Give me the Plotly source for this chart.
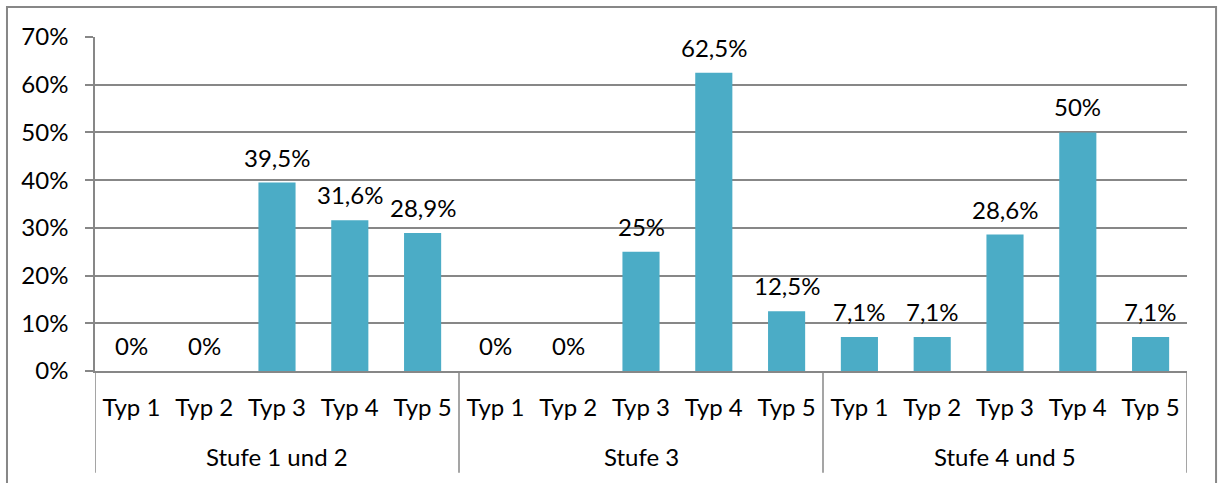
import plotly.graph_objects as go

groups = ["Stufe 1 und 2", "Stufe 3", "Stufe 4 und 5"]
types = ["Typ 1", "Typ 2", "Typ 3", "Typ 4", "Typ 5"]
values_stufe_1_2 = [0.0, 0.0, 0.395, 0.316, 0.289]
values_stufe_3 = [0.0, 0.0, 0.25, 0.625, 0.125]
values_stufe_4_5 = [0.071, 0.071, 0.286, 0.50, 0.071]
y_ticks = [0, 0.1, 0.2, 0.3, 0.4, 0.5, 0.6, 0.7]

all_values = values_stufe_1_2 + values_stufe_3 + values_stufe_4_5
n = len(types)
xpos = list(range(len(all_values)))
tick_text = types * len(groups)


def fmt(v):
    s = f"{v * 100:.1f}".rstrip("0").rstrip(".")
    return s.replace(".", ",") + "%"


labels = [fmt(v) for v in all_values]

FONT = "Lato, 'Open Sans', sans-serif"
FS = 24
GRAY = "#878787"

fig = go.Figure(
    go.Bar(
        x=xpos,
        y=all_values,
        marker=dict(color="#4BACC6", line=dict(width=0)),
        width=0.51,
        cliponaxis=False,
    )
)

shapes = []
# group dividers
for g in range(len(groups) + 1):
    xb = g * n - 0.5
    shapes.append(dict(type="line", xref="x", yref="paper", x0=xb, x1=xb,
                       y0=0, y1=-0.305, line=dict(color=GRAY, width=1.5)))
# chart border
shapes.append(dict(type="rect", xref="paper", yref="paper",
                   x0=-0.0806, x1=1.0266, y0=-0.40, y1=1.0898,
                   line=dict(color=GRAY, width=2), fillcolor="rgba(0,0,0,0)",
                   layer="below"))

annotations = []
# data labels
for x, v, lab in zip(xpos, all_values, labels):
    annotations.append(dict(x=x, y=v, xref="x", yref="y", text=lab,
                            showarrow=False, yanchor="bottom", yshift=9,
                            font=dict(size=FS, color="black", family=FONT)))
# group labels
for g, name in enumerate(groups):
    annotations.append(dict(x=g * n + (n - 1) / 2, y=-0.257, xref="x", yref="paper",
                            text=name, showarrow=False, yanchor="middle",
                            font=dict(size=FS, color="black", family=FONT)))

fig.update_layout(
    width=1218, height=483,
    margin=dict(l=95, r=31, t=37, b=112),
    paper_bgcolor="white", plot_bgcolor="white",
    showlegend=False,
    font=dict(family=FONT, size=FS, color="black"),
    shapes=shapes,
    annotations=annotations,
)
fig.update_xaxes(
    range=[-0.5, len(all_values) - 0.5],
    tickmode="array", tickvals=xpos, ticktext=tick_text,
    ticks="", showgrid=False, zeroline=False,
    showline=True, linecolor=GRAY, linewidth=1.5,
    ticklabelstandoff=14,
    tickfont=dict(size=FS, color="black", family=FONT),
)
fig.update_yaxes(
    range=[0, 0.7],
    tickmode="array", tickvals=y_ticks, tickformat=".0%",
    showgrid=True, gridcolor=GRAY, gridwidth=1.5,
    zeroline=False,
    showline=True, linecolor=GRAY, linewidth=1.5,
    ticks="outside", ticklen=8, tickcolor=GRAY, tickwidth=1.5,
    ticklabelstandoff=12,
    tickfont=dict(size=FS, color="black", family=FONT),
)

fig.write_html("out.html")
